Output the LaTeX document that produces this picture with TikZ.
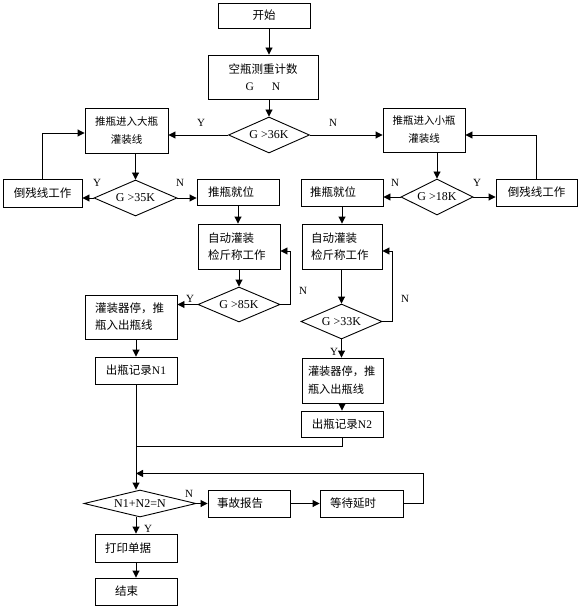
\documentclass[tikz,border=0pt]{standalone}
\usepackage{fontspec}
\setmainfont{Liberation Serif}
\newfontfamily\cjk{Noto Sans CJK SC}
\usetikzlibrary{shapes.geometric,arrows.meta,calc}
\begin{document}
\begin{tikzpicture}[x=1pt,y=-1pt,
  every node/.style={font=\fontsize{11.5}{17}\selectfont\cjk},
  bx/.style={draw, line width=0.9pt, rectangle, inner ysep=0pt},
  dm/.style={draw, line width=0.9pt, diamond, inner sep=0pt, font=\fontsize{12}{14}\selectfont\rmfamily},
  lab/.style={inner sep=0pt, font=\fontsize{11}{13}\selectfont\rmfamily},
  ln/.style={line width=0.9pt},
  arr/.style={line width=0.9pt, -{Triangle[length=7pt,width=7pt]}}]
\useasboundingbox (0,0) rectangle (580,612);
% boxes
\node[bx, minimum height=25pt, text width=72pt, inner xsep=10pt, align=center] (start) at (264,15.5) {开始};
\node[bx, minimum height=44pt, text width=100pt, inner xsep=5pt, align=center] (kp) at (263,77) {空瓶测重计数\\{\rmfamily G\hspace{18pt}N\hspace*{14pt}}};
\node[dm, minimum width=81pt, minimum height=36pt, aspect=2.25] (d1) at (269,135) {G >36K};
\node[bx, minimum height=45pt, text width=73pt, inner xsep=5pt, align=center, font=\fontsize{10.5}{18}\selectfont\cjk] (big) at (126.5,130.5) {推瓶进入大瓶\\灌装线};
\node[bx, minimum height=44pt, text width=72pt, inner xsep=5pt, align=center, font=\fontsize{10.5}{18}\selectfont\cjk] (small) at (424,130) {推瓶进入小瓶\\灌装线};
\node[dm, minimum width=83pt, minimum height=36pt, aspect=2.3] (d2) at (135.5,198) {G >35K};
\node[dm, minimum width=72pt, minimum height=36pt, aspect=2] (d3) at (437,197) {G >18K};
\node[bx, minimum height=28pt, text width=69pt, inner xsep=5pt, align=center] (dc1) at (42.5,193) {倒残线工作};
\node[bx, minimum height=27pt, text width=71pt, inner xsep=5pt, align=center] (dc2) at (536.5,192.5) {倒残线工作};
\node[bx, minimum height=26pt, text width=60pt, inner xsep=11pt, align=left] (tp1) at (238,192) {推瓶就位};
\node[bx, minimum height=27pt, text width=64pt, inner xsep=9pt, align=left] (tp2) at (342,192.5) {推瓶就位};
\node[bx, minimum height=45pt, text width=62pt, inner xsep=10pt, align=left] (zd1) at (239,246.5) {自动灌装\\检斤称工作};
\node[bx, minimum height=45pt, text width=62pt, inner xsep=9pt, align=left] (zd2) at (342,246.5) {自动灌装\\检斤称工作};
\node[dm, minimum width=82pt, minimum height=35pt, aspect=2.3] (d4) at (239,304.5) {G >85K};
\node[dm, minimum width=81pt, minimum height=35pt, aspect=2.3] (d5) at (341.5,321.5) {G >33K};
\node[bx, minimum height=44pt, text width=72pt, inner xsep=10pt, align=left] (gz1) at (131,317) {灌装器停，推\\瓶入出瓶线};
\node[bx, minimum height=45pt, text width=69pt, inner xsep=6pt, align=left, font=\fontsize{11.2}{18}\selectfont\cjk] (gz2) at (342.5,380.5) {灌装器停，推\\瓶入出瓶线};
\node[bx, minimum height=27pt, text width=72pt, inner xsep=5pt, align=center] (n1) at (136,370.5) {出瓶记录{\rmfamily N1}};
\node[bx, minimum height=26pt, text width=72pt, inner xsep=5pt, align=center] (n2) at (342,424) {出瓶记录{\rmfamily N2}};
\node[dm, minimum width=112pt, minimum height=27pt, aspect=4] (d6) at (140,503.5) {N1+N2=N};
\node[bx, minimum height=27pt, text width=64pt, inner xsep=9pt, align=left] (sg) at (249,503.5) {事故报告};
\node[bx, minimum height=27pt, text width=63pt, inner xsep=10pt, align=left] (dd) at (361.5,503.5) {等待延时};
\node[bx, minimum height=28pt, text width=62pt, inner xsep=10pt, align=left] (dy) at (136,548) {打印单据};
\node[bx, minimum height=27pt, text width=42pt, inner xsep=20pt, align=left] (end) at (136,591.5) {结束};
% labels
\node[lab] (ly1) at (201,123) {Y};
\node[lab] (ln1) at (333,123) {N};
\node[lab] (ly2) at (97,183) {Y};
\node[lab] (ln2) at (180,183) {N};
\node[lab] (ln3) at (395,183) {N};
\node[lab] (ly3) at (477,183) {Y};
\node[lab] (ln4) at (303,291) {N};
\node[lab] (ly4) at (190,299) {Y};
\node[lab] (ln5) at (405,299) {N};
\node[lab] (ly5) at (334,352) {Y};
\node[lab] (ln6) at (189,494) {N};
\node[lab] (ly6) at (148,529) {Y};
% connectors
\draw[arr] (start.south -| d1.north) -- (kp.north -| d1.north);
\draw[arr] (kp.south -| d1.north) -- (d1.north);
\draw[arr] (d1.west) -- (d1.west -| big.east);
\draw[arr] (d1.east) -- (d1.east -| small.west);
\draw[arr] (big.south -| d2.north) -- (d2.north);
\draw[arr] (small.south -| d3.north) -- (d3.north);
\draw[arr] (d2.west) -- (d2.west -| dc1.east);
\draw[arr] (d2.east) -- (d2.east -| tp1.west);
\draw[arr] (d3.west) -- (d3.west -| tp2.east);
\draw[arr] (d3.east) -- (d3.east -| dc2.west);
\draw[arr] (dc1.north) |- ([yshift=-2.5pt]big.west);
\draw[arr] (dc2.north) |- ([yshift=-5pt]small.east);
\draw[arr] (tp1.south) -- (zd1.north -| tp1.south);
\draw[arr] (tp2.south) -- (zd2.north -| tp2.south);
\draw[arr] (zd1.south -| d4.north) -- (d4.north);
\draw[arr] (zd2.south -| d5.north) -- (d5.north);
\draw[arr] (d4.east) -- ++(10,0) |- ([yshift=-4.5pt]zd1.east);
\draw[arr] (d5.east) -- ++(10,0) |- ([yshift=-4.5pt]zd2.east);
\draw[arr] (d4.west) -- (d4.west -| gz1.east);
\draw[arr] (d5.south) -- (gz2.north -| d5.south);
\draw[arr] (n1.north |- gz1.south) -- (n1.north);
\draw[arr] (gz2.south -| n2.north) -- (n2.north);
\coordinate (j1) at ($(n1.south)+(0,62)$);
\coordinate (j2) at ($(n1.south)+(0,89)$);
\draw[arr] (n1.south) -- (n1.south |- d6.north);
\draw[ln] (n2.south) |- (j1);
\draw[arr] (dd.east) -- ++(20,0) |- (j2);
\draw[arr] (d6.east) -- (sg.west);
\draw[arr] (sg.east) -- (dd.west);
\draw[arr] (n1.south |- d6.south) -- (dy.north);
\draw[arr] (dy.south) -- (end.north);
\end{tikzpicture}
\end{document}
